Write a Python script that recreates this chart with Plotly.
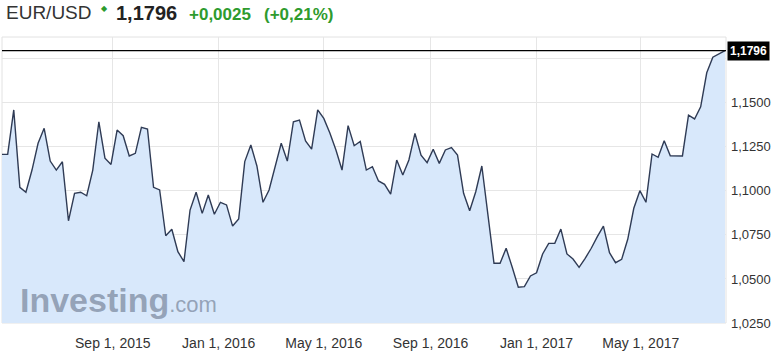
import pandas as pd
import plotly.graph_objects as go

# ---- data ----
end_date = "2017-08-06"
n_weeks = 120
eurusd = [
    1.1207, 1.1207, 1.1459, 1.1020, 1.0992, 1.1118, 1.1270, 1.1355, 1.1169, 1.1118,
    1.1165, 1.0830, 1.0986, 1.0992, 1.0972, 1.1118, 1.1392, 1.1185, 1.1150, 1.1345,
    1.1313, 1.1198, 1.1213, 1.1360, 1.1351, 1.1020, 1.1005, 1.0745, 1.0782, 1.0655,
    1.0598, 1.0891, 1.0992, 1.0872, 1.0976, 1.0867, 1.0935, 1.0920, 1.0800, 1.0840,
    1.1166, 1.1260, 1.1141, 1.0935, 1.1005, 1.1143, 1.1270, 1.1169, 1.1392, 1.1402,
    1.1283, 1.1237, 1.1459, 1.1411, 1.1328, 1.1232, 1.1118, 1.1370, 1.1256, 1.1280,
    1.1118, 1.1137, 1.1056, 1.1037, 1.0982, 1.1175, 1.1090, 1.1175, 1.1326, 1.1203,
    1.1160, 1.1236, 1.1156, 1.1232, 1.1245, 1.1203, 1.0986, 1.0887, 1.0995, 1.1141,
    1.0866, 1.0589, 1.0589, 1.0674, 1.0566, 1.0453, 1.0456, 1.0517, 1.0535, 1.0642,
    1.0702, 1.0702, 1.0783, 1.0642, 1.0613, 1.0566, 1.0617, 1.0674, 1.0740, 1.0800,
    1.0649, 1.0592, 1.0611, 1.0725, 1.0901, 1.1001, 1.0935, 1.1209, 1.1190, 1.1284,
    1.1199, 1.1199, 1.1198, 1.1430, 1.1408, 1.1477, 1.1670, 1.1758, 1.1775, 1.1796,
]
dates = pd.date_range(end=end_date, periods=n_weeks, freq="7D")

y_ticks = [1.025, 1.05, 1.075, 1.10, 1.125, 1.15, 1.175]
y_tick_text = ["1,0250", "1,0500", "1,0750", "1,1000", "1,1250", "1,1500", ""]
x_ticks = ["2015-09-01", "2016-01-01", "2016-05-01", "2016-09-01", "2017-01-01", "2017-05-01"]

symbol = "EUR/USD"
last_text = "1,1796"
change_text = "+0,0025"
pct_text = "(+0,21%)"

# ---- layout geometry (pixels) ----
W_PX, H_PX = 776, 361
L, R, T, B = 2, 726, 37, 323


def px(x):
    return (x - L) / (R - L)


def py(y):
    return (B - y) / (B - T)


FONT = "Liberation Sans, Arial, sans-serif"
GREEN = "#2e9b2e"

fig = go.Figure()
fig.add_trace(go.Scatter(
    x=dates, y=eurusd, mode="lines",
    line=dict(color="#2f3b55", width=1.4),
    fill="tozeroy", fillcolor="#d8e8fb",
    hoverinfo="skip",
))

fig.add_shape(type="rect", xref="paper", yref="paper", x0=0, x1=1, y0=0, y1=1,
              line=dict(color="#e2e2e2", width=1), layer="below")
fig.add_shape(type="line", xref="paper", yref="y", x0=0, x1=1,
              y0=eurusd[-1], y1=eurusd[-1], line=dict(color="black", width=1.2))

ann = []
ann.append(dict(text=symbol, x=px(4), y=py(13), xref="paper", yref="paper",
                xanchor="left", yanchor="middle", showarrow=False,
                font=dict(family=FONT, size=19, color="#333333")))
ann.append(dict(text="◆", x=px(104), y=py(9), xref="paper", yref="paper",
                xanchor="center", yanchor="middle", showarrow=False,
                font=dict(family="DejaVu Sans", size=8, color=GREEN)))
ann.append(dict(text="<b>" + last_text + "</b>", x=px(114), y=py(13), xref="paper", yref="paper",
                xanchor="left", yanchor="middle", showarrow=False,
                font=dict(family=FONT, size=20, color="#222222")))
ann.append(dict(text="<b>" + change_text + "</b>", x=px(187), y=py(14), xref="paper", yref="paper",
                xanchor="left", yanchor="middle", showarrow=False,
                font=dict(family=FONT, size=17, color=GREEN)))
ann.append(dict(text="<b>" + pct_text + "</b>", x=px(262), y=py(14), xref="paper", yref="paper",
                xanchor="left", yanchor="middle", showarrow=False,
                font=dict(family=FONT, size=17, color=GREEN)))
# watermark
ann.append(dict(text="<b>Investing</b><span style='font-size:22px'>.com</span>",
                x=px(18), y=py(300), xref="paper", yref="paper",
                xanchor="left", yanchor="middle", showarrow=False,
                font=dict(family=FONT, size=34, color="rgba(115,128,150,0.68)")))
# last value tag
ann.append(dict(text="<b>" + last_text + "</b>", x=1, y=eurusd[-1], xref="paper", yref="y",
                xanchor="left", yanchor="middle", xshift=1, showarrow=False,
                bgcolor="black", borderpad=2,
                font=dict(family=FONT, size=12, color="white")))

fig.update_layout(
    width=W_PX, height=H_PX,
    margin=dict(l=L, r=W_PX - R, t=T, b=H_PX - B, pad=0),
    paper_bgcolor="white", plot_bgcolor="white",
    showlegend=False,
    separators=",.",
    annotations=ann,
    xaxis=dict(
        type="date",
        range=["2015-04-26 11:00", "2017-08-07 04:00"],
        tickvals=x_ticks, tickformat="%b %-d, %Y",
        showgrid=True, gridcolor="#e6e6e6", gridwidth=1,
        zeroline=False, showline=False, ticks="",
        ticklabelstandoff=10,
        tickfont=dict(family=FONT, size=14, color="#333333"),
    ),
    yaxis=dict(
        side="right",
        range=[1.025, 1.1873],
        tickvals=y_ticks, ticktext=y_tick_text,
        showgrid=True, gridcolor="#e6e6e6", gridwidth=1,
        zeroline=False, showline=False, ticks="",
        ticklabelstandoff=4,
        tickfont=dict(family=FONT, size=13, color="#333333"),
    ),
)

fig.write_html("out.html")
